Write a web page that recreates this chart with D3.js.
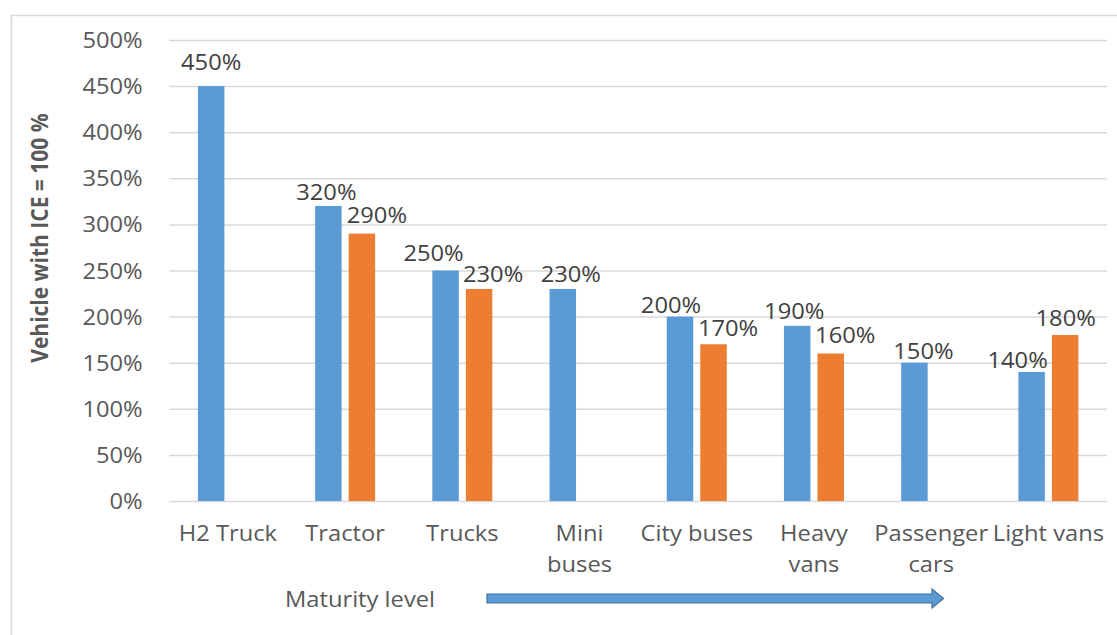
<!DOCTYPE html>
<html>
<head>
<meta charset="utf-8">
<script src="https://cdn.jsdelivr.net/npm/d3@7"></script>
<style>
  html, body { margin: 0; padding: 0; background: #fff; }
  svg { display: block; }
</style>
</head>
<body>
<script>
// ---------------- data ----------------
const categories = ["H2 Truck", "Tractor", "Trucks", "Mini buses", "City buses", "Heavy vans", "Passenger cars", "Light vans"];
const categoryLines = [["H2 Truck"], ["Tractor"], ["Trucks"], ["Mini", "buses"], ["City buses"], ["Heavy", "vans"], ["Passenger", "cars"], ["Light vans"]];
const seriesNames = ["Series 1", "Series 2"];
const series1 = [450, 320, 250, 230, 200, 190, 150, 140];
const series2 = [null, 290, 230, null, 170, 160, null, 180];
const yTicks = [0, 50, 100, 150, 200, 250, 300, 350, 400, 450, 500];
const yTitle = "Vehicle with ICE = 100 %";
const xTitle = "Maturity level";

// ---------------- layout / style ----------------
const W = 1117, H = 635;
const plot = { left: 169.3, right: 1107, top: 40, bottom: 501 };
const colors = ["#5B9BD5", "#ED7D31"];
const FONT = "'Open Sans', 'Noto Sans', sans-serif";
const FS = 21;          // font size
const SX = 1.13;        // horizontal text stretch
// label nudges (dx, gap above bar) per series, per category
const labelDx = [[0, -2, -12, 8, -9, -3, 9, -14], [0, 15, 14, 0, 14.5, 14.5, 0, 0.5]];
const labelGap = [[16, 6, 10, 7, 4, 7, 4, 4], [0, 11, 7, 7, 8, 10.5, 0, 9.5]];

const svg = d3.select("body").append("svg").attr("width", W).attr("height", H);
svg.append("rect").attr("width", W).attr("height", H).attr("fill", "#fff");

// chart area border (extends beyond the picture right/bottom)
svg.append("rect")
  .attr("x", 11.5).attr("y", 15.5).attr("width", 1200).attr("height", 700)
  .attr("fill", "none").attr("stroke", "#D9D9D9").attr("stroke-width", 1.5);

// scales
const x0 = d3.scaleBand().domain(categories).range([plot.left, plot.right])
  .paddingInner(0.488).paddingOuter(0.244);
const x1 = d3.scaleBand().domain(seriesNames).range([0, x0.bandwidth()])
  .paddingInner(0.21).paddingOuter(0);
const y = d3.scaleLinear().domain([0, 500]).range([plot.bottom, plot.top]);

function stretchedText(g, x, yy, str, anchor, fill, weight) {
  return g.append("text")
    .attr("transform", `translate(${x},${yy}) scale(${SX},1)`)
    .attr("text-anchor", anchor || "middle")
    .attr("font-family", FONT)
    .attr("font-size", FS)
    .attr("font-weight", weight || 400)
    .attr("fill", fill || "#595959")
    .text(str);
}

// y axis with gridlines
const yAxis = d3.axisLeft(y).tickValues(yTicks)
  .tickSize(-(plot.right - plot.left)).tickPadding(0)
  .tickFormat(d => d + "%");
const gy = svg.append("g").attr("transform", `translate(${plot.left},0)`).call(yAxis);
gy.select(".domain").remove();
gy.selectAll(".tick line").attr("stroke", "#D9D9D9").attr("stroke-width", 1.5);
gy.selectAll(".tick text")
  .attr("font-family", FONT).attr("font-size", FS).attr("fill", "#595959")
  .attr("text-anchor", "end")
  .attr("x", -26.6 / SX).attr("dy", null).attr("y", 7.5)
  .attr("transform", `scale(${SX},1)`);

// bars
const rows = categories.map((c, i) => ({ cat: c, i, vals: [series1[i], series2[i]] }));
const groups = svg.append("g").selectAll("g").data(rows).join("g")
  .attr("transform", d => `translate(${x0(d.cat)},0)`);

groups.selectAll("rect")
  .data(d => d.vals.map((v, s) => ({ v, s, i: d.i })).filter(e => e.v != null))
  .join("rect")
  .attr("x", e => x1(seriesNames[e.s]))
  .attr("width", x1.bandwidth())
  .attr("y", e => y(e.v))
  .attr("height", e => y(0) - y(e.v))
  .attr("fill", e => colors[e.s]);

// value labels
const labG = svg.append("g");
rows.forEach(d => {
  d.vals.forEach((v, s) => {
    if (v == null) return;
    const cx = x0(d.cat) + x1(seriesNames[s]) + x1.bandwidth() / 2 + labelDx[s][d.i];
    stretchedText(labG, cx, y(v) - labelGap[s][d.i], v + "%", "middle", "#404040");
  });
});

// category labels
const xg = svg.append("g");
categories.forEach((c, i) => {
  const cx = x0(c) + x0.bandwidth() / 2;
  categoryLines[i].forEach((ln, k) => {
    stretchedText(xg, cx, 541 + k * 30.7, ln, "middle", "#595959");
  });
});

// y title
svg.append("text")
  .attr("transform", `translate(47.5,238) rotate(-90) scale(1,${SX})`)
  .attr("text-anchor", "middle")
  .attr("font-family", FONT).attr("font-size", FS).attr("font-weight", 700)
  .attr("fill", "#595959")
  .text(yTitle);

// x title + arrow
stretchedText(svg, 360, 606.5, xTitle, "middle", "#595959");
const ay = 598.5, ax0 = 487, axh = 932, ax1 = 943.5;
svg.append("path")
  .attr("d", `M${ax0},${ay - 4.5} L${axh},${ay - 4.5} L${axh},${ay - 9.5} L${ax1},${ay} L${axh},${ay + 9.5} L${axh},${ay + 4.5} L${ax0},${ay + 4.5} Z`)
  .attr("fill", "#5B9BD5").attr("stroke", "#41719C").attr("stroke-width", 1.2);
</script>
</body>
</html>
